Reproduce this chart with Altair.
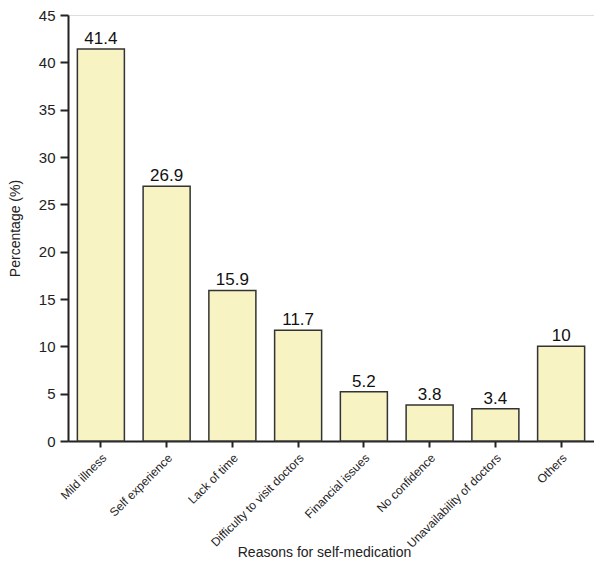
import altair as alt
import pandas as pd

reasons = ["Mild illness", "Self experience", "Lack of time", "Difficulty to visit doctors",
           "Financial issues", "No confidence", "Unavailability of doctors", "Others"]
values = [41.4, 26.9, 15.9, 11.7, 5.2, 3.8, 3.4, 10]
labels = ["41.4", "26.9", "15.9", "11.7", "5.2", "3.8", "3.4", "10"]

df = pd.DataFrame({"reason": reasons, "value": values, "label": labels})

FONT = "Liberation Sans"

x = alt.X("reason:N", sort=reasons, title="Reasons for self-medication",
          scale=alt.Scale(paddingInner=0.285, paddingOuter=0.1425),
          axis=alt.Axis(labelAngle=-45, labelFontSize=12, titleFontSize=14,
                        labelColor="#222", titleColor="#222", domainColor="#222",
                        tickColor="#222", domainWidth=2, tickWidth=2, tickSize=6,
                        labelPadding=5, titleX=256, titleY=104, labelFont=FONT,
                        titleFont=FONT, titleFontWeight="normal"))
y = alt.Y("value:Q", title="Percentage (%)",
          scale=alt.Scale(domain=[0, 45], nice=False),
          axis=alt.Axis(values=list(range(0, 46, 5)), grid=False, labelFontSize=15,
                        titleFontSize=14, labelColor="#222", titleColor="#222",
                        domainColor="#222", tickColor="#222", domainWidth=2, tickWidth=2,
                        tickSize=8, labelPadding=5, titlePadding=16, labelFont=FONT,
                        titleFont=FONT, titleFontWeight="normal"))

bars = alt.Chart(df).mark_bar(color="#f7f3c3", stroke="#333333", strokeWidth=1.5).encode(x=x, y=y)
text = alt.Chart(df).mark_text(dy=-10, fontSize=17, font=FONT, color="#111").encode(
    x=alt.X("reason:N", sort=reasons), y="value:Q", text="label:N")

chart = (bars + text).properties(
    width=526, height=426,
    padding={"top": 0, "left": 0, "right": 0, "bottom": 0},
).configure_view(stroke=None).configure(background="white")

chart.save("out.html", embed_options={"renderer": "svg", "actions": False})
